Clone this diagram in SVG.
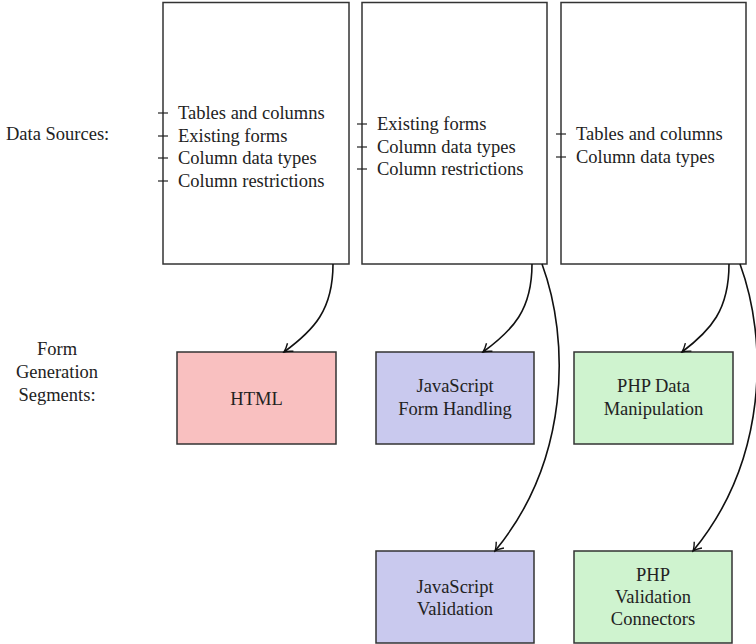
<svg xmlns="http://www.w3.org/2000/svg" width="756" height="644" viewBox="0 0 756 644">
  <style>
    text { font-family: "Liberation Serif", "Times New Roman", serif; font-size: 18.5px; fill: #222; }
    .mid { text-anchor: middle; }
    .box { stroke: #333; stroke-width: 1.5; }
    .src { fill: #fff; }
    .html { fill: #f9c0c0; }
    .js { fill: #c9c9ee; }
    .php { fill: #cff3cf; }
    .tick { stroke: #222; stroke-width: 1.2; }
    .edge { fill: none; stroke: #111; stroke-width: 1.6; marker-end: url(#arrow); }
  </style>
  <defs>
    <marker id="arrow" viewBox="-10 -6 12 12" refX="0" refY="0" markerWidth="12" markerHeight="12" markerUnits="userSpaceOnUse" orient="auto">
      <path d="M-8,-5 Q-3,-1 0,0 Q-3,1 -8,5" fill="none" stroke="#111" stroke-width="1.4"/>
    </marker>
  </defs>

  <!-- row labels -->
  <g id="label-sources">
    <text x="6" y="140">Data Sources:</text>
  </g>
  <g id="label-segments">
    <text class="mid" x="57" y="355">Form</text>
    <text class="mid" x="57" y="378">Generation</text>
    <text class="mid" x="57" y="401">Segments:</text>
  </g>

  <!-- data source boxes -->
  <g id="source-html">
    <rect class="box src" x="163" y="2.5" width="186" height="261.5"/>
    <line class="tick" x1="158" y1="113" x2="168" y2="113"/>
    <line class="tick" x1="158" y1="136" x2="168" y2="136"/>
    <line class="tick" x1="158" y1="158" x2="168" y2="158"/>
    <line class="tick" x1="158" y1="181" x2="168" y2="181"/>
    <text x="178" y="118.5">Tables and columns</text>
    <text x="178" y="141.5">Existing forms</text>
    <text x="178" y="163.5">Column data types</text>
    <text x="178" y="186.5">Column restrictions</text>
  </g>
  <g id="source-js">
    <rect class="box src" x="362" y="2.5" width="185" height="261.5"/>
    <line class="tick" x1="357" y1="124" x2="367" y2="124"/>
    <line class="tick" x1="357" y1="147" x2="367" y2="147"/>
    <line class="tick" x1="357" y1="169" x2="367" y2="169"/>
    <text x="377" y="129.5">Existing forms</text>
    <text x="377" y="152.5">Column data types</text>
    <text x="377" y="174.5">Column restrictions</text>
  </g>
  <g id="source-php">
    <rect class="box src" x="561" y="2.5" width="185" height="261.5"/>
    <line class="tick" x1="556" y1="134" x2="566" y2="134"/>
    <line class="tick" x1="556" y1="157" x2="566" y2="157"/>
    <text x="576" y="139.5">Tables and columns</text>
    <text x="576" y="162.5">Column data types</text>
  </g>

  <!-- generation segments -->
  <g id="seg-html">
    <rect class="box html" x="177" y="352" width="159" height="92"/>
    <text class="mid" x="256.5" y="405">HTML</text>
  </g>
  <g id="seg-js-form">
    <rect class="box js" x="376" y="352" width="158" height="92"/>
    <text class="mid" x="455" y="392">JavaScript</text>
    <text class="mid" x="455" y="415">Form Handling</text>
  </g>
  <g id="seg-php-data">
    <rect class="box php" x="574" y="352" width="159" height="92"/>
    <text class="mid" x="653.5" y="392">PHP Data</text>
    <text class="mid" x="653.5" y="415">Manipulation</text>
  </g>
  <g id="seg-js-validation">
    <rect class="box js" x="376" y="551" width="158" height="92"/>
    <text class="mid" x="455" y="593">JavaScript</text>
    <text class="mid" x="455" y="615">Validation</text>
  </g>
  <g id="seg-php-validation">
    <rect class="box php" x="574" y="551" width="158" height="92"/>
    <text class="mid" x="653" y="581">PHP</text>
    <text class="mid" x="653" y="603">Validation</text>
    <text class="mid" x="653" y="625">Connectors</text>
  </g>

  <!-- connectors -->
  <g id="connectors">
    <path class="edge" d="M333,264 C333,310 314,330 284,352"/>
    <path class="edge" d="M532,264 C532,310 513,330 483,352"/>
    <path class="edge" d="M729,264 C729,310 711,330 682,352"/>
    <path class="edge" d="M542,264 C570,340 570,460 495,551"/>
    <path class="edge" d="M740,264 C768,340 768,460 693,551"/>
  </g>
</svg>
